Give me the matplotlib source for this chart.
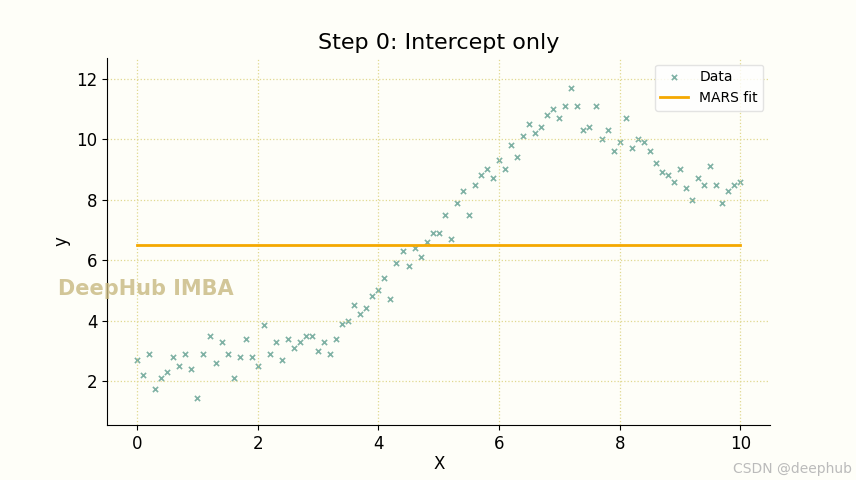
import numpy as np
import matplotlib
matplotlib.use("Agg")
import matplotlib.pyplot as plt

x_vals = [round(i*0.1, 1) for i in range(101)]
y_vals = [2.7,2.2,2.9,1.75,2.1,2.3,2.8,2.5,2.9,2.4,1.45,2.9,3.5,2.6,3.3,2.9,2.1,2.8,3.4,2.8,
          2.5,3.85,2.9,3.3,2.7,3.4,3.1,3.3,3.5,3.5,3.0,3.3,2.9,3.4,3.9,4.0,4.5,4.2,4.4,4.8,
          5.0,5.4,4.7,5.9,6.3,5.8,6.4,6.1,6.6,6.9,6.9,7.5,6.7,7.9,8.3,7.5,8.5,8.8,9.0,8.7,
          9.3,9.0,9.8,9.4,10.1,10.5,10.2,10.4,10.8,11.0,10.7,11.1,11.7,11.1,10.3,10.4,11.1,10.0,10.3,9.6,
          9.9,10.7,9.7,10.0,9.9,9.6,9.2,8.9,8.8,8.6,9.0,8.4,8.0,8.7,8.5,9.1,8.5,7.9,8.3,8.5,8.6]
intercept = 6.5
fit_x = [0, 10]

fig = plt.figure(figsize=(8.56, 4.8), dpi=100)
fig.patch.set_facecolor("#fefef8")
ax = fig.add_axes([0.125, 0.115, 0.775, 0.765])
ax.set_facecolor("#fefef8")
ax.scatter(x_vals, y_vals, marker="x", s=14, color="#5f9e8f", alpha=0.8, linewidths=1.2, label="Data")
ax.plot(fit_x, [intercept, intercept], color="#f5a800", lw=2, label="MARS fit")
ax.set_xlim(-0.5, 10.5)
ax.set_ylim(0.55, 12.7)
ax.set_xticks([0, 2, 4, 6, 8, 10])
ax.set_yticks([2, 4, 6, 8, 10, 12])
ax.grid(True, color="#e0d890", linestyle=":", lw=0.9)
for s in ["top", "right"]:
    ax.spines[s].set_visible(False)
ax.tick_params(labelsize=12)
ax.set_xlabel("X", fontsize=12, labelpad=2)
ax.set_ylabel("y", fontsize=12)
ax.set_title("Step 0: Intercept only", fontsize=16)
ax.legend(loc="upper right", fontsize=10, frameon=True, edgecolor="#dddddd")
fig.text(0.068, 0.385, "DeepHub IMBA", fontsize=15, color="#c8b880", alpha=0.8, fontweight="bold")
fig.text(0.995, 0.015, "CSDN @deephub", fontsize=10, color="#bbbbbb", ha="right")
fig.savefig("out.png", dpi=100, facecolor=fig.get_facecolor())
